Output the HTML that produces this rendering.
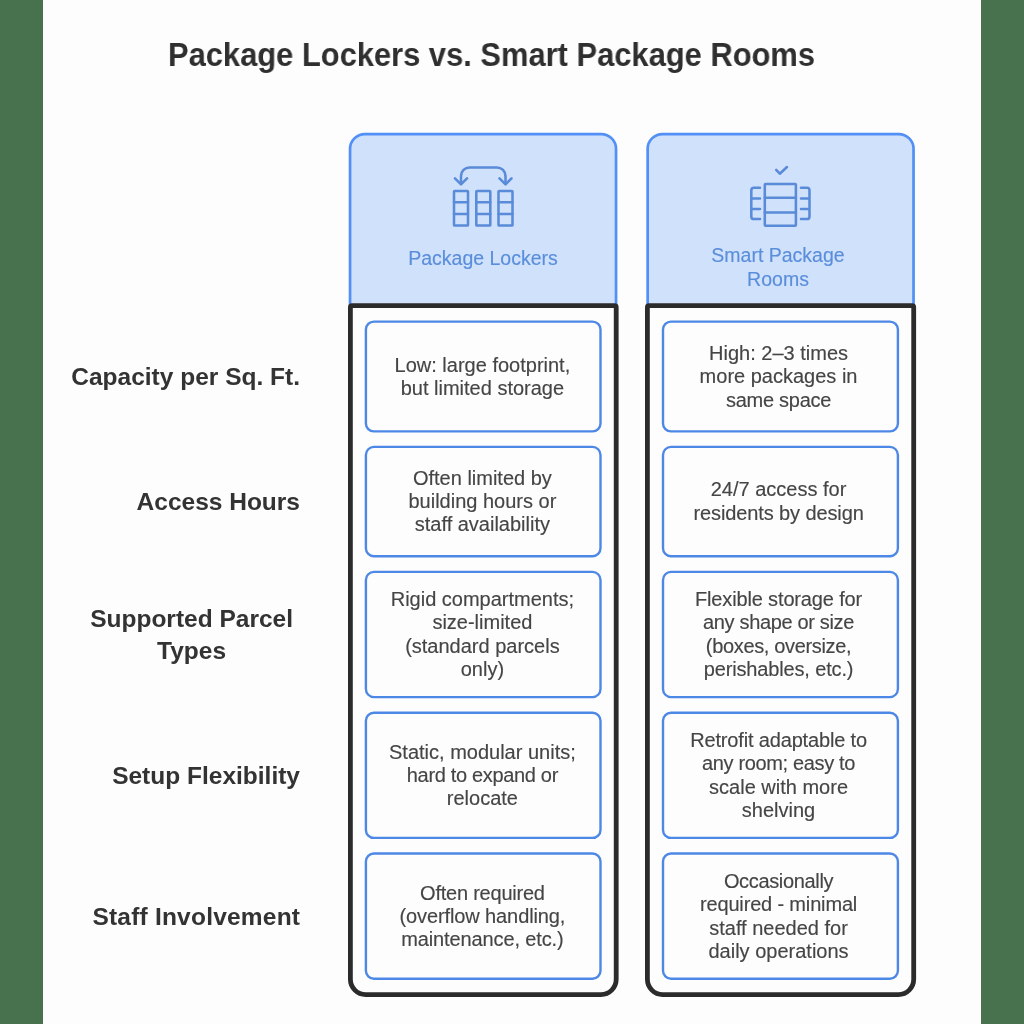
<!DOCTYPE html>
<html><head><meta charset="utf-8">
<style>
html,body{margin:0;padding:0;width:1024px;height:1024px;overflow:hidden;background:#fdfdfd;}
body{position:relative;font-family:"Liberation Sans",sans-serif;}
.g{position:absolute;top:0;height:1024px;background:#48714d;}
svg{position:absolute;left:0;top:0;}
.t{position:absolute;white-space:nowrap;}
.t,.hd,.lab,.c{will-change:transform;}
.hd,.c{-webkit-text-stroke:0.15px currentColor;}
.title{left:168.4px;top:36.6px;font-size:32.5px;font-weight:700;color:#2f2f2f;line-height:36px;transform:scaleX(0.95);transform-origin:0 0;}
.hd{position:absolute;color:#5a8edb;font-size:19.5px;line-height:24px;text-align:center;display:flex;align-items:center;justify-content:center;}
.lab{position:absolute;right:724px;width:260px;display:flex;align-items:center;justify-content:flex-end;}
.lab span{display:inline-block;text-align:center;font-weight:700;font-size:24.5px;line-height:31.5px;color:#333333;}
.c{position:absolute;display:flex;align-items:center;justify-content:center;text-align:center;font-size:20px;line-height:23.3px;color:#454545;}
</style></head><body>
<div class="g" style="left:0;width:43px"></div>
<div class="g" style="left:981px;width:43px"></div>

<svg width="1024" height="1024" viewBox="0 0 1024 1024">
  <!-- headers -->
  <path d="M350.05 306 V148.85 A14.8 14.8 0 0 1 364.85 134.05 H601.25 A14.8 14.8 0 0 1 616.05 148.85 V306 Z" fill="#d0e1fb"/>
  <path d="M350.05 306 V148.85 A14.8 14.8 0 0 1 364.85 134.05 H601.25 A14.8 14.8 0 0 1 616.05 148.85 V306" fill="none" stroke="#5290f7" stroke-width="2.7"/>
  <path d="M647.65 306 V148.85 A14.8 14.8 0 0 1 662.45 134.05 H898.75 A14.8 14.8 0 0 1 913.55 148.85 V306 Z" fill="#d0e1fb"/>
  <path d="M647.65 306 V148.85 A14.8 14.8 0 0 1 662.45 134.05 H898.75 A14.8 14.8 0 0 1 913.55 148.85 V306" fill="none" stroke="#5290f7" stroke-width="2.7"/>
  <!-- black boxes -->
  <path d="M350.4 307.2 A1.6 1.6 0 0 1 352.0 305.6 H614.6 A1.6 1.6 0 0 1 616.2 307.2 V979.3 A15.3 15.3 0 0 1 600.9 994.6 H365.7 A15.3 15.3 0 0 1 350.4 979.3 Z" fill="#fdfdfd" stroke="#2b2b2b" stroke-width="4.8"/>
  <path d="M647.4 307.2 A1.6 1.6 0 0 1 649.0 305.6 H912.1 A1.6 1.6 0 0 1 913.7 307.2 V979.3 A15.3 15.3 0 0 1 898.4 994.6 H662.7 A15.3 15.3 0 0 1 647.4 979.3 Z" fill="#fdfdfd" stroke="#2b2b2b" stroke-width="4.8"/>
  <!-- cards col1 -->
  <g fill="#fdfdfd" stroke="#4e88e6" stroke-width="2.4">
    <rect x="365.9" y="321.6" width="234.6" height="109.8" rx="8"/>
    <rect x="365.9" y="446.9" width="234.6" height="109.4" rx="8"/>
    <rect x="365.9" y="571.9" width="234.6" height="125.2" rx="8"/>
    <rect x="365.9" y="712.7" width="234.6" height="125.2" rx="8"/>
    <rect x="365.9" y="853.5" width="234.6" height="125.2" rx="8"/>
    <rect x="663" y="321.6" width="234.9" height="109.8" rx="8"/>
    <rect x="663" y="446.9" width="234.9" height="109.4" rx="8"/>
    <rect x="663" y="571.9" width="234.9" height="125.2" rx="8"/>
    <rect x="663" y="712.7" width="234.9" height="125.2" rx="8"/>
    <rect x="663" y="853.5" width="234.9" height="125.2" rx="8"/>
  </g>
  <!-- icon 1 -->
  <g fill="none" stroke="#5a8bd8" stroke-width="2.55" stroke-linecap="round" stroke-linejoin="round">
    <rect x="454" y="190.9" width="14" height="34.7" rx="0.7"/>
    <rect x="476.3" y="190.9" width="14" height="34.7" rx="0.7"/>
    <rect x="498.5" y="190.9" width="14" height="34.7" rx="0.7"/>
    <path d="M454 202.2H468M454 213.9H468M476.3 202.2H490.3M476.3 213.9H490.3M498.5 202.2H512.5M498.5 213.9H512.5"/>
    <path d="M461 183.5V176A8.6 8.6 0 0 1 469.6 167.4H496.9A8.6 8.6 0 0 1 505.5 176V183.5"/>
    <path d="M455 178.4L461 184.4L467 178.4M499.5 178.4L505.5 184.4L511.5 178.4"/>
  </g>
  <!-- icon 2 -->
  <g fill="none" stroke="#5a8bd8" stroke-width="2.55" stroke-linecap="round" stroke-linejoin="round">
    <rect x="764.8" y="183.9" width="31.1" height="41.8" rx="0.8"/>
    <path d="M764.8 197.8H795.9M764.8 212.4H795.9"/>
    <path d="M760 187.8H753.9A2.6 2.6 0 0 0 751.3 190.4V216.4A2.6 2.6 0 0 0 753.9 219H760M751.3 198.4H760M751.3 208.9H760"/>
    <path d="M801 187.8H806.9A2.6 2.6 0 0 1 809.5 190.4V216.4A2.6 2.6 0 0 1 806.9 219H801M809.5 198.4H801M809.5 208.9H801"/>
    <path d="M776.2 169.9L779.8 173.7L787 167"/>
  </g>
</svg>

<div class="t title">Package Lockers vs. Smart Package Rooms</div>

<div class="hd" style="left:383px;width:200px;top:242.3px;height:32px">Package Lockers</div>
<div class="hd" style="left:678px;width:200px;top:242.8px;height:48px">Smart Package<br>Rooms</div>

<div class="lab" style="top:320.6px;height:111.8px"><span>Capacity per Sq. Ft.</span></div>
<div class="lab" style="top:445.9px;height:111.4px"><span>Access Hours</span></div>
<div class="lab" style="top:570.9px;height:127.2px;right:731.5px"><span>Supported Parcel<br>Types</span></div>
<div class="lab" style="top:711.7px;height:127.2px"><span>Setup Flexibility</span></div>
<div class="lab" style="top:852.5px;height:127.2px"><span style="letter-spacing:0.21px;margin-right:-0.21px">Staff Involvement</span></div>

<div class="c" style="left:363.6px;width:236.8px;top:320.6px;height:111.8px"><div>Low: large footprint,<br>but limited storage</div></div>
<div class="c" style="left:363.6px;width:236.8px;top:445.9px;height:111.4px"><div>Often limited by<br>building hours or<br>staff availability</div></div>
<div class="c" style="left:363.6px;width:236.8px;top:570.9px;height:127.2px"><div>Rigid compartments;<br>size-limited<br>(standard parcels<br>only)</div></div>
<div class="c" style="left:363.6px;width:236.8px;top:711.7px;height:127.2px"><div>Static, modular units;<br><span style="letter-spacing:-0.33px">hard to expand or</span><br>relocate</div></div>
<div class="c" style="left:363.6px;width:236.8px;top:852.5px;height:127.2px"><div><span style="letter-spacing:-0.23px">Often required</span><br><span style="letter-spacing:-0.11px">(overflow handling,</span><br><span style="letter-spacing:-0.12px">maintenance, etc.)</span></div></div>
<div class="c" style="left:659.6px;width:237.1px;top:320.6px;height:111.8px"><div>High: 2–3 times<br>more packages in<br><span style="letter-spacing:-0.28px">same space</span></div></div>
<div class="c" style="left:659.6px;width:237.1px;top:445.9px;height:111.4px"><div>24/7 access for<br><span style="letter-spacing:-0.11px">residents by design</span></div></div>
<div class="c" style="left:659.6px;width:237.1px;top:570.9px;height:127.2px"><div><span style="letter-spacing:-0.15px">Flexible storage for</span><br><span style="letter-spacing:-0.34px">any shape or size</span><br><span style="letter-spacing:-0.34px">(boxes, oversize,</span><br><span style="letter-spacing:-0.15px">perishables, etc.)</span></div></div>
<div class="c" style="left:659.6px;width:237.1px;top:711.7px;height:127.2px"><div><span style="letter-spacing:-0.16px">Retrofit adaptable to</span><br><span style="letter-spacing:-0.35px">any room; easy to</span><br>scale with more<br>shelving</div></div>
<div class="c" style="left:659.6px;width:237.1px;top:852.5px;height:127.2px"><div><span style="letter-spacing:-0.34px">Occasionally</span><br><span style="letter-spacing:-0.16px">required - minimal</span><br>staff needed for<br>daily operations</div></div>
</body></html>
